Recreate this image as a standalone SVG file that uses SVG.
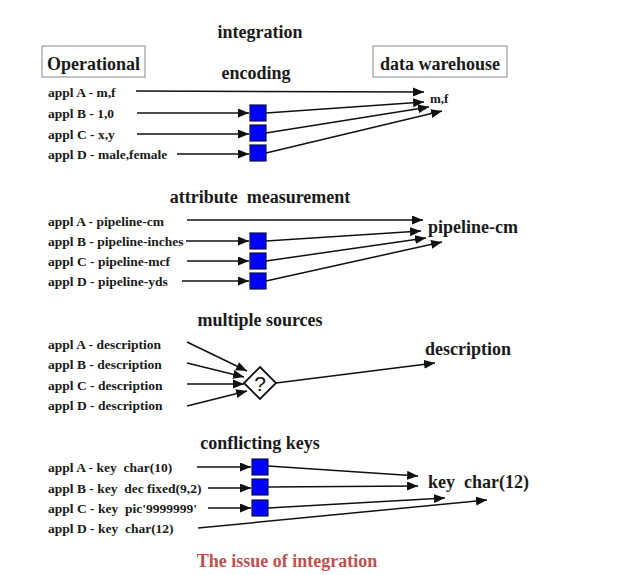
<svg xmlns="http://www.w3.org/2000/svg" width="630" height="575" viewBox="0 0 630 575">
<defs>
<marker id="ah" markerUnits="userSpaceOnUse" markerWidth="12" markerHeight="10" refX="11" refY="4.5" orient="auto"><path d="M0,0 L11,4.5 L0,9 Z" fill="#111"/></marker>
<style>
.t{font-family:"Liberation Serif","Times New Roman",serif;font-weight:bold;fill:#1a1a1a}
.r{font-size:13.5px}
.h{font-size:18px}
.ln{stroke:#111;stroke-width:1.5;fill:none}
.a{marker-end:url(#ah)}
.bx{fill:#0000ff;stroke:#10104a;stroke-width:1.2}
.hb{fill:#fff;stroke:#888;stroke-width:1}
</style>
</defs>
<rect width="630" height="575" fill="#fff"/>
<g id="titles">
<text class="t h" x="260" y="38" text-anchor="middle">integration</text>
<text class="t h" x="256" y="79" text-anchor="middle">encoding</text>
<text class="t h" x="260" y="203" text-anchor="middle" xml:space="preserve">attribute  measurement</text>
<text class="t h" x="260" y="326" text-anchor="middle">multiple sources</text>
<text class="t h" x="260" y="449" text-anchor="middle">conflicting keys</text>
<text class="t h" x="287" y="567" text-anchor="middle" style="fill:#c0504d">The issue of integration</text>
</g>
<g id="operational">
<rect class="hb" x="42" y="46" width="103" height="31"/>
<text class="t h" x="93.5" y="70" text-anchor="middle">Operational</text>
</g>
<g id="data-warehouse">
<rect class="hb" x="373" y="46" width="134" height="31"/>
<text class="t h" x="440" y="70" text-anchor="middle">data warehouse</text>
</g>
<g id="encoding-sources">
<text class="t r" x="48" y="97">appl A - m,f</text>
<text class="t r" x="48" y="118">appl B - 1,0</text>
<text class="t r" x="48" y="139">appl C - x,y</text>
<text class="t r" x="48" y="159">appl D - male,female</text>
</g>
<g id="encoding-boxes">
<rect class="bx" x="250" y="105" width="16" height="16"/>
<rect class="bx" x="250" y="125" width="16" height="16"/>
<rect class="bx" x="250" y="145" width="16" height="16"/>
</g>
<g id="encoding-target"><text class="t" x="430" y="103" style="font-size:13px">m,f</text></g>
<g id="attr-sources">
<text class="t r" x="48" y="226">appl A - pipeline-cm</text>
<text class="t r" x="48" y="246">appl B - pipeline-inches</text>
<text class="t r" x="48" y="266">appl C - pipeline-mcf</text>
<text class="t r" x="48" y="286">appl D - pipeline-yds</text>
</g>
<g id="attr-boxes">
<rect class="bx" x="250" y="233" width="16" height="16"/>
<rect class="bx" x="250" y="253" width="16" height="16"/>
<rect class="bx" x="250" y="273" width="16" height="16"/>
</g>
<g id="attr-target"><text class="t h" x="428" y="233">pipeline-cm</text></g>
<g id="multi-sources">
<text class="t r" x="48" y="349">appl A - description</text>
<text class="t r" x="48" y="369">appl B - description</text>
<text class="t r" x="48" y="390">appl C - description</text>
<text class="t r" x="48" y="410">appl D - description</text>
</g>
<g id="multi-diamond">
<polygon points="260,367 276,383 260,399 244,383" fill="#fff" stroke="#111" stroke-width="1.8"/>
<text x="260" y="391" text-anchor="middle" style="font-family:'Liberation Sans',Arial,sans-serif;font-size:21px;fill:#111">?</text>
</g>
<g id="multi-target"><text class="t h" x="425" y="355">description</text></g>
<g id="key-sources">
<text class="t r" x="48" y="472" xml:space="preserve">appl A - key  char(10)</text>
<text class="t r" x="48" y="493" xml:space="preserve">appl B - key  dec fixed(9,2)</text>
<text class="t r" x="48" y="513" xml:space="preserve">appl C - key  pic'9999999'</text>
<text class="t r" x="48" y="533" xml:space="preserve">appl D - key  char(12)</text>
</g>
<g id="key-boxes">
<rect class="bx" x="252" y="459" width="16" height="16"/>
<rect class="bx" x="252" y="479" width="16" height="16"/>
<rect class="bx" x="252" y="500" width="16" height="16"/>
</g>
<g id="key-target"><text class="t h" x="428" y="488" xml:space="preserve">key  char(12)</text></g>
<g id="connectors">
<line class="ln a" x1="136" y1="91" x2="424" y2="92"/>
<line class="ln a" x1="137" y1="113" x2="249" y2="113"/>
<line class="ln a" x1="137" y1="134" x2="249" y2="134"/>
<line class="ln a" x1="177" y1="154" x2="249" y2="154"/>
<line class="ln a" x1="266" y1="113" x2="424" y2="102"/>
<line class="ln a" x1="266" y1="133" x2="429" y2="107"/>
<line class="ln a" x1="266" y1="153" x2="442" y2="111"/>

<line class="ln a" x1="187" y1="220" x2="423" y2="220"/>
<line class="ln a" x1="186" y1="241" x2="249" y2="241"/>
<line class="ln a" x1="187" y1="261" x2="249" y2="261"/>
<line class="ln a" x1="182" y1="281" x2="249" y2="281"/>
<line class="ln a" x1="266" y1="241" x2="421" y2="231"/>
<line class="ln a" x1="266" y1="261" x2="426" y2="238"/>
<line class="ln a" x1="266" y1="281" x2="442" y2="242"/>

<line class="ln a" x1="187" y1="342" x2="247" y2="371"/>
<line class="ln a" x1="187" y1="363" x2="244" y2="377"/>
<line class="ln a" x1="187" y1="384" x2="244" y2="384"/>
<line class="ln a" x1="187" y1="406" x2="247" y2="391"/>
<line class="ln a" x1="276" y1="383" x2="435" y2="363"/>

<line class="ln a" x1="197" y1="467" x2="251" y2="467"/>
<line class="ln a" x1="208" y1="488" x2="251" y2="488"/>
<line class="ln a" x1="208" y1="508" x2="251" y2="508"/>
<line class="ln a" x1="268" y1="466" x2="418" y2="476"/>
<line class="ln a" x1="268" y1="487" x2="418" y2="486"/>
<line class="ln a" x1="268" y1="508" x2="445" y2="498"/>
<line class="ln a" x1="198" y1="528" x2="487" y2="500"/>
</g>
</svg>
